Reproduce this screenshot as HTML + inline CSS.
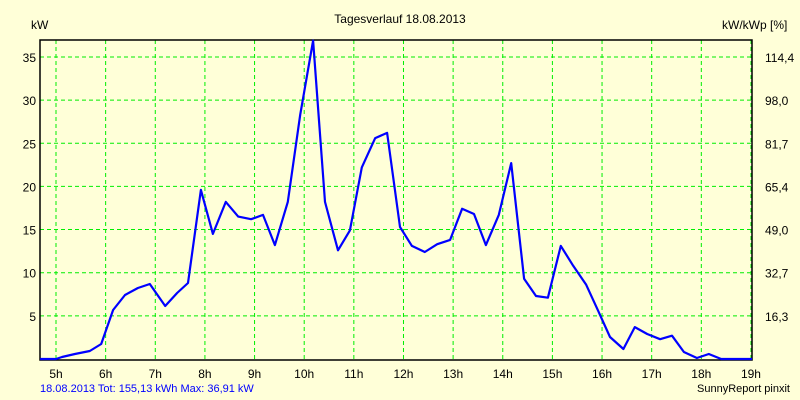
<!DOCTYPE html>
<html><head><meta charset="utf-8"><style>
body{margin:0;background:#ffffd8;}
svg{display:block;font-family:"Liberation Sans",sans-serif;}
</style></head><body>
<svg id="chart" width="800" height="400" xmlns="http://www.w3.org/2000/svg">
<rect width="800" height="400" fill="#ffffd8"/>
<text x="400" y="23" font-size="12" text-anchor="middle">Tagesverlauf 18.08.2013</text>
<text x="31" y="29" font-size="12">kW</text>
<text x="722" y="29" font-size="12">kW/kWp [%]</text>
<g id="grid"></g>
<g id="axes"></g>
<g id="series"></g>
<text x="40" y="392" font-size="11" fill="#0000ff">18.08.2013 Tot: 155,13 kWh Max: 36,91 kW</text>
<text x="790" y="392" font-size="11" text-anchor="end">SunnyReport pinxit</text>
</svg>
<script>
const hours=[5,6,7,8,9,10,11,12,13,14,15,16,17,18,19];
const yTicks=[5,10,15,20,25,30,35];
const rightLabels=["16,3","32,7","49,0","65,4","81,7","98,0","114,4"];
const times=[4.68,5.0,5.12,5.38,5.68,5.91,6.15,6.39,6.65,6.89,7.2,7.44,7.66,7.92,8.16,8.42,8.67,8.93,9.17,9.41,9.67,9.92,10.18,10.42,10.68,10.92,11.16,11.43,11.67,11.93,12.17,12.43,12.68,12.94,13.18,13.42,13.66,13.92,14.17,14.43,14.67,14.91,15.17,15.42,15.68,15.92,16.16,16.43,16.66,16.91,17.17,17.41,17.65,17.91,18.15,18.4,19.02];
const power=[0,0,0.23,0.58,0.93,1.74,5.68,7.42,8.23,8.69,6.14,7.65,8.81,19.6,14.5,18.2,16.5,16.2,16.7,13.2,18.2,28.3,36.9,18.2,12.6,14.9,22.2,25.6,26.2,15.3,13.1,12.4,13.3,13.8,17.4,16.8,13.2,16.7,22.7,9.3,7.3,7.1,13.1,10.8,8.6,5.6,2.55,1.16,3.7,2.9,2.3,2.7,0.81,0.12,0.58,0,0];
const L=40,R=752,T=40,B=359;
const x=h=>56+(h-5)*49.64;
const y=v=>B-v*8.63;
const NS="http://www.w3.org/2000/svg";
function mk(tag,parent,attrs){const e=document.createElementNS(NS,tag);for(const k in attrs)e.setAttribute(k,attrs[k]);parent.appendChild(e);return e;}
const grid=document.getElementById('grid'),axes=document.getElementById('axes'),series=document.getElementById('series');
hours.forEach(h=>{
  const g=mk('line',grid,{x1:x(h),x2:x(h),y1:T,y2:B,stroke:'#00ee00','stroke-dasharray':'4,3'});
  
  
  const t=mk('text',axes,{x:x(h),y:378,'font-size':12,'text-anchor':'middle'});
  t.textContent=h+'h';
  
  
});
yTicks.forEach((v,i)=>{
  const g=mk('line',grid,{x1:L,x2:R,y1:y(v),y2:y(v),stroke:'#00ee00','stroke-dasharray':'4,3'});
  
  
  const t=mk('text',axes,{x:36,y:y(v)+5,'font-size':12,'text-anchor':'end'});
  t.textContent=v;
  
  
  const t2=mk('text',axes,{x:765,y:y(v)+5,'font-size':12});
  t2.textContent=rightLabels[i];
  
  
});
const ax=mk('path',axes,{d:`M${L},${T}H${R}V${B+1}H${L}Z`,fill:'none',stroke:'#000','stroke-width':1.5});


const pts=times.map((t,i)=>x(t).toFixed(1)+','+y(power[i]).toFixed(1)).join(' ');
const line=mk('polyline',series,{points:pts,fill:'none',stroke:'#0000ff','stroke-width':2.2,'stroke-linejoin':'round'});


</script>
</body></html>
